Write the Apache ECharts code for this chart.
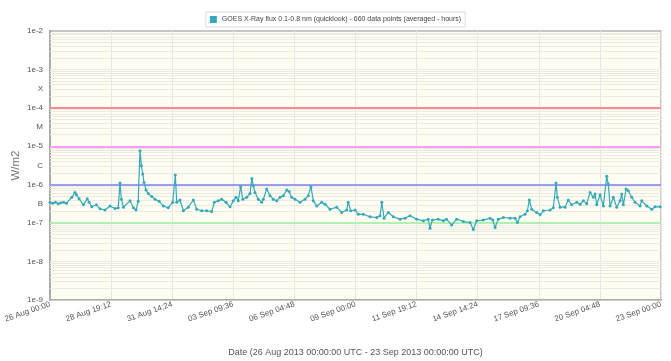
<!DOCTYPE html>
<html>
<head>
<meta charset="utf-8">
<script src="https://cdn.jsdelivr.net/npm/echarts@6/dist/echarts.min.js"></script>
<style>html,body{margin:0;padding:0;background:#fff;}#c{width:671px;height:361px;}</style>
</head>
<body>
<div id="c"></div>
<script>
// ---- data ----
var seriesName = 'GOES X-Ray flux 0.1-0.8 nm (quicklook) - 660 data points (averaged - hours)';
var startUTC = Date.UTC(2013, 7, 26, 0, 0, 0);
var endHours = 672;
// hours since 26 Aug 2013 00:00 UTC
var hoursSinceStart = [0,3,6,9,12,15,18,24,27.5,29,32,36.7,41,43,46,51,55,60.5,66,71.5,75,77,78.5,80.7,88,91.7,94.6,97,99,100.5,102,103.4,105.6,108,112,115.5,120,124.6,130,135,137.8,139.4,143,146.7,152,157.7,161.4,166.8,172.3,177.8,180.7,185,188.8,193.6,198,201.6,204.6,207,209.7,212,216.3,220,222,223.6,225.5,229,232.8,234.6,238.3,242,245.6,249.4,253,256.6,260.4,263,265.8,269.5,275,280.5,284,287,289.6,293.4,298.8,302.5,308,315.3,320.8,326.3,328,330.7,335.5,339,344.6,352,359.4,363,364.9,367.4,372,377.6,385,390.5,396,403.3,410.6,416,418,420.5,427,432.6,436,441.8,447.3,454.6,462,465.6,469.3,476.6,484,487,489.5,493,498.6,506,511.5,514,517,522.5,525,527.2,529.8,535.3,539,542.6,550,553.6,556.6,558,561,566.5,570,573.8,579.3,583,586.6,590.3,594,597.6,599.5,601.3,605,608.6,612.3,614,616,619.6,623.3,627,628.8,630.6,633.6,636,639.8,643.5,649,650.8,656.4,661.9,665.5,671];
// flux in W/m2
var fluxValues = [3.5e-7,3.3e-7,3.5e-7,3.2e-7,3.4e-7,3.5e-7,3.3e-7,4.7e-7,6.3e-7,5.5e-7,4.3e-7,3.0e-7,4.3e-7,3.5e-7,2.66e-7,3.0e-7,2.36e-7,2.2e-7,2.8e-7,2.4e-7,2.5e-7,1.1e-6,4.2e-7,2.6e-7,3.8e-7,2.5e-7,2.2e-7,3.7e-7,7.7e-6,3.1e-6,1.9e-6,1.15e-6,7.3e-7,5.9e-7,4.9e-7,4.2e-7,3.7e-7,2.8e-7,2.5e-7,3.5e-7,1.8e-6,3.5e-7,4.0e-7,2.1e-7,2.6e-7,4.0e-7,2.3e-7,2.1e-7,2.1e-7,2.0e-7,3.5e-7,3.8e-7,4.2e-7,3.5e-7,2.66e-7,3.8e-7,4.7e-7,3.8e-7,8.9e-7,4.2e-7,4.7e-7,5.9e-7,1.46e-6,9.4e-7,6.3e-7,4.2e-7,3.5e-7,4.2e-7,7.7e-7,5.2e-7,4.2e-7,3.8e-7,4.7e-7,5.2e-7,7.3e-7,6.7e-7,4.7e-7,4.2e-7,3.5e-7,4.2e-7,5.2e-7,8.9e-7,3.8e-7,2.8e-7,3.5e-7,3.1e-7,2.3e-7,2.6e-7,1.9e-7,2.2e-7,3.5e-7,2.1e-7,2.2e-7,1.7e-7,1.7e-7,1.46e-7,1.4e-7,1.55e-7,3.5e-7,1.35e-7,1.9e-7,1.46e-7,1.27e-7,1.35e-7,1.55e-7,1.27e-7,1.15e-7,1.27e-7,7.4e-8,1.2e-7,1.27e-7,1.15e-7,1.27e-7,8.9e-8,1.27e-7,1.1e-7,1.04e-7,6.8e-8,1.15e-7,1.2e-7,1.35e-7,1.2e-7,7.7e-8,1.27e-7,1.4e-7,1.35e-7,1.35e-7,1.04e-7,1.46e-7,1.7e-7,2.1e-7,4.0e-7,2.3e-7,1.9e-7,1.65e-7,2.1e-7,2.2e-7,2.5e-7,1.1e-6,4.7e-7,2.6e-7,2.6e-7,4.0e-7,3.0e-7,3.5e-7,3.1e-7,3.8e-7,3.2e-7,6.3e-7,4.7e-7,5.7e-7,3.0e-7,5.5e-7,2.8e-7,1.65e-6,1.04e-6,2.8e-7,4.7e-7,2.6e-7,3.8e-7,5.7e-7,3.0e-7,7.7e-7,7.0e-7,4.7e-7,3.5e-7,2.8e-7,3.8e-7,2.8e-7,2.3e-7,2.66e-7,2.66e-7];
// flare class thresholds
var thresholdValues = [1e-4, 1e-5, 1e-6, 1e-7];
var thresholdColors = ['#ff8c8c', '#ff9cf0', '#9c9cf4', '#b0f0b0'];
// half-decade axis labels (exponent*2 -> text)
var yLabelMap = {'-4':'1e-2','-6':'1e-3','-7':'X','-8':'1e-4','-9':'M','-10':'1e-5','-11':'C','-12':'1e-6','-13':'B','-14':'1e-7','-16':'1e-8','-18':'1e-9'};
var xAxisTitle = 'Date (26 Aug 2013 00:00:00 UTC - 23 Sep 2013 00:00:00 UTC)';
var yAxisTitle = 'W/m2';
var monthNames = ['Jan','Feb','Mar','Apr','May','Jun','Jul','Aug','Sep','Oct','Nov','Dec'];

// minor grid values (log-spaced)
var gridValues = [];
for (var e = -9; e <= -3; e++) {
  for (var m = 1; m <= 9; m++) gridValues.push(m * Math.pow(10, e));
}

function pad(n){ return (n < 10 ? '0' : '') + n; }
function fmtHour(h){
  var d = new Date(startUTC + Math.round(h * 60) * 60000);
  return pad(d.getUTCDate()) + ' ' + monthNames[d.getUTCMonth()] + ' ' + pad(d.getUTCHours()) + ':' + pad(d.getUTCMinutes());
}

var pts = hoursSinceStart.map(function(h, i){ return [h, fluxValues[i]]; });

var chart = echarts.init(document.getElementById('c'), null, {renderer: 'canvas'});
var font = '"Liberation Sans", Arial, sans-serif';
var teal = '#36a9b9';
chart.setOption({
  animation: false,
  textStyle: {fontFamily: font},
  legend: {
    top: 12, left: 'center',
    data: [{name: seriesName, icon: 'rect'}],
    itemWidth: 7, itemHeight: 7, itemGap: 4,
    borderColor: '#dcdcdc', borderWidth: 1, padding: [4, 4],
    textStyle: {fontSize: 7, color: '#444', fontFamily: font}
  },
  grid: {
    left: 50, right: 10, top: 31, bottom: 61, outerBoundsMode: 'none', containLabel: false,
    show: true, backgroundColor: '#fefdf2', borderColor: '#b4b4b4', borderWidth: 1.5
  },
  xAxis: {
    type: 'value', min: 0, max: endHours, interval: 67.2,
    name: xAxisTitle, nameLocation: 'middle', nameGap: 48, nameMoveOverlap: false,
    nameTextStyle: {fontSize: 9, color: '#555', fontFamily: font},
    axisLine: {show: true, lineStyle: {color: '#aaa', width: 2}},
    axisTick: {show: false},
    axisLabel: {rotate: 19, fontSize: 8, color: '#555', margin: 4, showMinLabel: true, showMaxLabel: true,
      formatter: function(v){ return fmtHour(v); }},
    splitLine: {show: true, lineStyle: {color: '#e6e6e6', width: 1}}
  },
  yAxis: {
    type: 'log', logBase: Math.sqrt(10), min: 1e-9, max: 1e-2, interval: 1,
    name: yAxisTitle, nameLocation: 'middle', nameGap: 28, nameRotate: 90, nameMoveOverlap: false,
    nameTextStyle: {fontSize: 11.5, color: '#777', fontFamily: font},
    axisLine: {show: true, lineStyle: {color: '#aaa', width: 2}},
    axisTick: {show: false},
    axisLabel: {fontSize: 8, color: '#555', margin: 7,
      formatter: function(v){ var k = Math.round(2 * Math.log10(v)); return yLabelMap[String(k)] || ''; }},
    splitLine: {show: false}
  },
  series: [
    {
      name: 'grid', type: 'lines', coordinateSystem: 'cartesian2d', silent: true, z: 1,
      lineStyle: {color: '#ebebe3', width: 1, opacity: 1},
      data: gridValues.map(function(v){ return {coords: [[0, v], [endHours, v]]}; })
    },
    {
      name: 'thresholds', type: 'lines', coordinateSystem: 'cartesian2d', silent: true, z: 2,
      data: thresholdValues.map(function(v, i){ return {coords: [[0, v], [endHours, v]], lineStyle: {color: thresholdColors[i], width: 2, opacity: 1}}; })
    },
    {
      name: seriesName, type: 'line', data: pts, z: 5,
      color: teal,
      symbol: 'circle', symbolSize: 3, showSymbol: true,
      lineStyle: {width: 1.2, color: teal},
      itemStyle: {color: teal}
    }
  ]
});
</script>
</body>
</html>
